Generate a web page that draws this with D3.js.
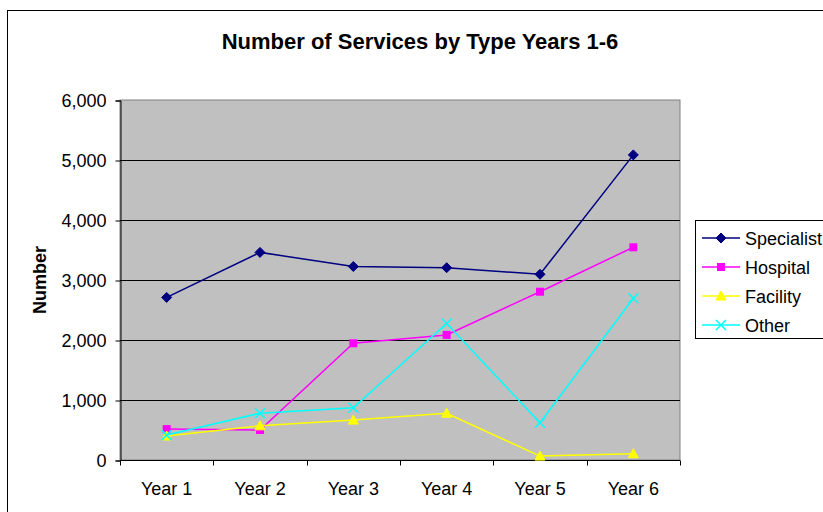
<!DOCTYPE html>
<html>
<head>
<meta charset="utf-8">
<script src="https://cdn.jsdelivr.net/npm/d3@7"></script>
<style>
  html, body { margin: 0; padding: 0; background: #fff; }
  svg { display: block; font-family: "Liberation Sans", Arial, sans-serif; }
</style>
</head>
<body>
<svg id="chart" width="823" height="512"></svg>
<script>
// Categories and series
const years = ["Year 1", "Year 2", "Year 3", "Year 4", "Year 5", "Year 6"];
const specialist = [2710, 3460, 3225, 3205, 3095, 5085];
const hospital = [515, 500, 1945, 2085, 2805, 3545];
const facility = [400, 570, 665, 780, 65, 105];
const other = [415, 780, 870, 2275, 620, 2695];
const yTicks = [0, 1000, 2000, 3000, 4000, 5000, 6000];

const seriesList = [
  { name: "Specialist", values: specialist, color: "#000080", marker: "diamond" },
  { name: "Hospital", values: hospital, color: "#FF00FF", marker: "square" },
  { name: "Facility", values: facility, color: "#FFFF00", marker: "triangle" },
  { name: "Other", values: other, color: "#00FFFF", marker: "cross" }
];

const svg = d3.select("#chart");
const plot = { left: 120, right: 680, top: 100, bottom: 460 };
const FONT = "Liberation Sans, Arial, sans-serif";

// Outer chart frame
svg.append("rect")
  .attr("x", 7.5).attr("y", 10.5)
  .attr("width", 830).attr("height", 520)
  .attr("fill", "#fff").attr("stroke", "#000").attr("stroke-width", 1);

svg.append("text")
  .attr("x", 420).attr("y", 49)
  .attr("text-anchor", "middle")
  .attr("font-size", 22).attr("font-weight", "bold")
  .text("Number of Services by Type Years 1-6");

const x = d3.scaleBand().domain(years).range([plot.left, plot.right]);
const y = d3.scaleLinear().domain([0, 6000]).range([plot.bottom, plot.top]);

// Plot background
svg.append("rect")
  .attr("x", plot.left).attr("y", plot.top)
  .attr("width", plot.right - plot.left).attr("height", plot.bottom - plot.top)
  .attr("fill", "#C0C0C0")
  .attr("stroke", "#808080").attr("stroke-width", 1);

// Gridlines
svg.append("g")
  .selectAll("line")
  .data(yTicks.filter(d => d > 0 && d < 6000))
  .join("line")
  .attr("x1", plot.left).attr("x2", plot.right)
  .attr("y1", d => Math.round(y(d)) + 0.5).attr("y2", d => Math.round(y(d)) + 0.5)
  .attr("stroke", "#000").attr("stroke-width", 1);

// Y axis
const yAxis = svg.append("g")
  .attr("transform", `translate(${plot.left + 0.5},0.5)`)
  .call(d3.axisLeft(y).tickValues(yTicks).tickSize(5).tickPadding(9)
    .tickFormat(d3.format(",")));
yAxis.select(".domain").attr("stroke", "#000");
yAxis.selectAll("text").attr("font-size", 18).attr("font-family", FONT).attr("fill", "#000");

// X axis with ticks on band boundaries
const xAxis = svg.append("g")
  .attr("transform", `translate(0,${plot.bottom + 0.5})`);
xAxis.append("line")
  .attr("x1", plot.left).attr("x2", plot.right)
  .attr("stroke", "#000");
const bounds = years.map(d => x(d)).concat([plot.right]);
xAxis.selectAll("line.tick")
  .data(bounds)
  .join("line")
  .attr("class", "tick")
  .attr("x1", d => Math.round(d) + 0.5).attr("x2", d => Math.round(d) + 0.5)
  .attr("y1", 0).attr("y2", 5)
  .attr("stroke", "#000");
xAxis.selectAll("text")
  .data(years)
  .join("text")
  .attr("x", d => x(d) + x.bandwidth() / 2)
  .attr("y", 34)
  .attr("text-anchor", "middle")
  .attr("font-size", 18)
  .text(d => d);

// Y axis title
svg.append("text")
  .attr("transform", "translate(46,280) rotate(-90)")
  .attr("text-anchor", "middle")
  .attr("font-size", 18).attr("font-weight", "bold")
  .text("Number");

function drawMarker(g, type, color) {
  if (type === "diamond") {
    g.append("path").attr("d", "M0,-5L5,0L0,5L-5,0Z").attr("fill", color).attr("stroke", color);
  } else if (type === "square") {
    g.append("rect").attr("x", -4).attr("y", -4).attr("width", 8).attr("height", 8).attr("fill", color);
  } else if (type === "triangle") {
    g.append("path").attr("d", "M0,-5L5,4L-5,4Z").attr("fill", color).attr("stroke", color);
  } else if (type === "cross") {
    g.append("path").attr("d", "M-5,-5L5,5M-5,5L5,-5").attr("stroke", color).attr("stroke-width", 1.5).attr("fill", "none");
  }
}

const line = d3.line()
  .x((d, i) => x(years[i]) + x.bandwidth() / 2)
  .y(d => y(d));

seriesList.forEach(s => {
  const g = svg.append("g");
  g.append("path")
    .attr("d", line(s.values))
    .attr("fill", "none")
    .attr("stroke", s.color)
    .attr("stroke-width", 1.5);
  s.values.forEach((v, i) => {
    const m = g.append("g")
      .attr("transform", `translate(${x(years[i]) + x.bandwidth() / 2},${y(v)})`);
    drawMarker(m, s.marker, s.color);
  });
});

// Legend
const legend = svg.append("g");
legend.append("rect")
  .attr("x", 695.5).attr("y", 220.5)
  .attr("width", 140).attr("height", 118)
  .attr("fill", "#fff").attr("stroke", "#000");
seriesList.forEach((s, i) => {
  const ly = 238 + i * 29;
  const g = legend.append("g");
  g.append("line")
    .attr("x1", 702).attr("x2", 740)
    .attr("y1", ly).attr("y2", ly)
    .attr("stroke", s.color).attr("stroke-width", 1.5);
  const m = g.append("g").attr("transform", `translate(721,${ly})`);
  drawMarker(m, s.marker, s.color);
  g.append("text")
    .attr("x", 745).attr("y", ly + 6.5)
    .attr("font-size", 18)
    .text(s.name);
});
</script>
</body>
</html>
